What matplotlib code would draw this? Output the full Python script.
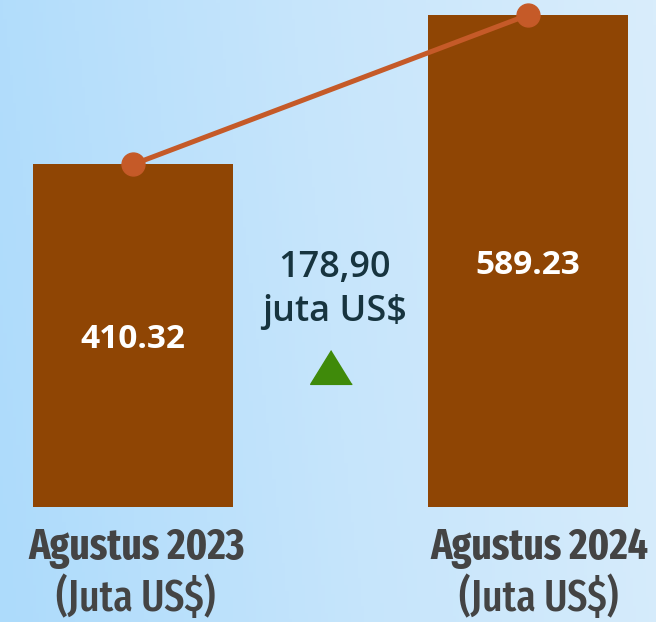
import numpy as np
import matplotlib
matplotlib.use("Agg")
import matplotlib.pyplot as plt
import matplotlib.font_manager as fm
from matplotlib.colors import LinearSegmentedColormap

# --- Data ---
periods = ["Agustus 2023", "Agustus 2024"]
values = [410.32, 589.23]
value_labels = ["410.32", "589.23"]
unit_label = "(Juta US$)"
change_label = "178,90\njuta US$"

# --- Style ---
bar_colour = "#8f4504"
line_colour = "#c55a28"
text_dark = "#444444"
mid_text = "#17343f"
bar_width = 0.506
label_shift = [0.008, 0.028]


# Picks a condensed font file of the given weight if one is installed, narrowest first
def find_condensed(weight):
    hits = []
    for f in fm.fontManager.ttflist:
        narrow = ("Condensed" in f.name or "Narrow" in f.name
                  or str(f.stretch) in ("condensed", "semi-condensed", "extra-condensed")
                  or "Condensed" in f.fname or "Narrow" in f.fname)
        if not narrow or "Mono" in f.name or "Serif" in f.name:
            continue
        if "Italic" in f.fname or "Oblique" in f.fname:
            continue
        w = f.weight if isinstance(f.weight, int) else {"normal": 400, "regular": 400, "bold": 700}.get(f.weight, 0)
        if w == weight:
            hits.append(f)
    if not hits:
        return None

    def rank(f):
        if "ExtraCondensed" in f.fname:
            return 0
        if "SemiCondensed" in f.fname:
            return 2
        return 1
    hits.sort(key=lambda f: (rank(f), f.fname))
    return hits[0].fname


bold_file = find_condensed(700)
reg_file = find_condensed(500) or find_condensed(400)
if bold_file:
    head_font = fm.FontProperties(fname=bold_file, size=31)
else:
    head_font = fm.FontProperties(family="DejaVu Sans", weight="bold", size=22)
if reg_file:
    unit_font = fm.FontProperties(fname=reg_file, size=31)
else:
    unit_font = fm.FontProperties(family="DejaVu Sans", size=21)

fig = plt.figure(figsize=(6.56, 6.22), dpi=100)

# background gradient
bg = fig.add_axes([0, 0, 1, 1], zorder=0)
cmap = LinearSegmentedColormap.from_list("bg", ["#addbfb", "#c6e5fb", "#d9edfb"])
gx, gy = np.meshgrid(np.linspace(0, 1, 200), np.linspace(0, 1, 200))
bg.imshow(gx * 0.9 + gy * 0.1, cmap=cmap, aspect="auto", extent=[0, 1, 0, 1], origin="lower")
bg.axis("off")

ax = fig.add_axes([0, 0, 1, 1], zorder=1)
ax.patch.set_alpha(0)
x = np.arange(len(values))
ax.bar(x, values, width=bar_width, color=bar_colour, zorder=2)
ax.plot(x, values, "-o", color=line_colour, linewidth=3.6, markersize=16.5, zorder=3)

for xi, v, lab in zip(x, values, value_labels):
    ax.text(xi, v * 0.49, lab, color="white", fontsize=24,
            fontweight="bold", ha="center", va="center", family="Open Sans", zorder=4)

for xi, p, dx in zip(x, periods, label_shift):
    ax.text(xi + dx, -49, p, color=text_dark, ha="center", va="center", fontproperties=head_font)
    ax.text(xi + dx, -109, unit_label, color=text_dark, ha="center", va="center", fontproperties=unit_font)

ax.text(0.51, 260, change_label, color=mid_text, fontsize=26, ha="center", va="center",
        family="Open Sans", linespacing=1.28, fontweight="semibold")
tri = [(0, 0.81), (-1, -0.81), (1, -0.81)]
ax.plot([0.5], [168], marker=tri, markersize=30, color="#3f8a0a", zorder=3)

ax.set_xlim(-133 / 395, 523 / 395)
ax.set_ylim(-137.7, 607.2)
ax.axis("off")

plt.savefig("out.png", dpi=100)
plt.close(fig)
